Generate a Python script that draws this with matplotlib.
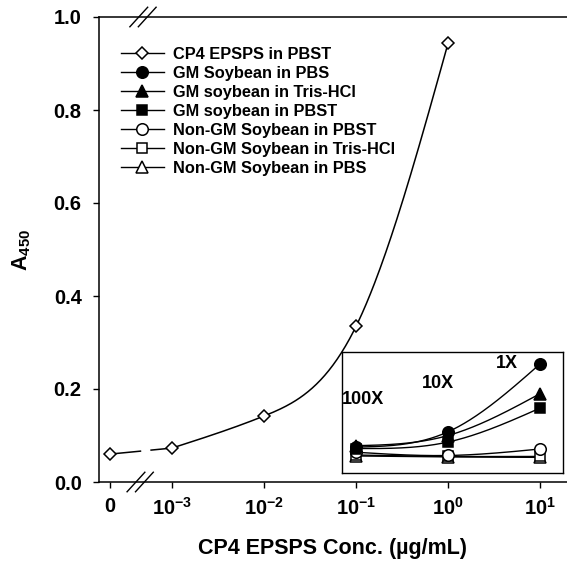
import numpy as np
import matplotlib
matplotlib.use("Agg")
import matplotlib.pyplot as plt
from matplotlib.lines import Line2D
from matplotlib.ticker import NullLocator

plt.rcParams['font.family'] = ['Liberation Sans', 'DejaVu Sans']
plt.rcParams['font.weight'] = 'bold'
plt.rcParams['axes.labelweight'] = 'bold'
plt.rcParams['mathtext.fontset'] = 'custom'
plt.rcParams['mathtext.rm'] = 'Liberation Sans:bold'
plt.rcParams['mathtext.bf'] = 'Liberation Sans:bold'
plt.rcParams['mathtext.it'] = 'Liberation Sans:bold'
plt.rcParams['mathtext.default'] = 'bf'

# ---------------- data ----------------
cp4_conc = [0, 1e-3, 1e-2, 1e-1, 1]
cp4_a450 = [0.060, 0.073, 0.142, 0.335, 0.944]

sample_conc = [1e-1, 1, 10]          # positions of 100X, 10X, 1X extracts
dilution_labels = ['100X', '10X', '1X']
gm_pbs = [0.075, 0.108, 0.254]
gm_tris = [0.078, 0.100, 0.190]
gm_pbst = [0.072, 0.086, 0.159]
ngm_pbst = [0.064, 0.057, 0.071]
ngm_tris = [0.058, 0.055, 0.055]
ngm_pbs = [0.056, 0.054, 0.053]

series_labels = ['CP4 EPSPS in PBST', 'GM Soybean in PBS', 'GM soybean in Tris-HCl',
                 'GM soybean in PBST', 'Non-GM Soybean in PBST',
                 'Non-GM Soybean in Tris-HCl', 'Non-GM Soybean in PBS']

x_ticks = [0, 1e-3, 1e-2, 1e-1, 1, 10]
x_tick_labels = ['0', r'$10^{-3}$', r'$10^{-2}$', r'$10^{-1}$', r'$10^{0}$', r'$10^{1}$']
y_ticks = [0.0, 0.2, 0.4, 0.6, 0.8, 1.0]
y_tick_labels = ['0.0', '0.2', '0.4', '0.6', '0.8', '1.0']


def natural_spline(x, y, n=200):
    x = np.asarray(x, float); y = np.asarray(y, float)
    N = len(x)
    h = np.diff(x)
    A = np.zeros((N, N)); b = np.zeros(N)
    A[0, 0] = 1; A[-1, -1] = 1
    for i in range(1, N - 1):
        A[i, i - 1] = h[i - 1]
        A[i, i] = 2 * (h[i - 1] + h[i])
        A[i, i + 1] = h[i]
        b[i] = 6 * ((y[i + 1] - y[i]) / h[i] - (y[i] - y[i - 1]) / h[i - 1])
    M = np.linalg.solve(A, b)
    xs = np.linspace(x[0], x[-1], n)
    k = np.clip(np.searchsorted(x, xs) - 1, 0, N - 2)
    t1 = x[k + 1] - xs; t0 = xs - x[k]; hk = h[k]
    ys = (M[k] * t1**3 / (6 * hk) + M[k + 1] * t0**3 / (6 * hk)
          + (y[k] / hk - M[k] * hk / 6) * t1 + (y[k + 1] / hk - M[k + 1] * hk / 6) * t0)
    return xs, ys


def smooth(ax, x, y):
    T = ax.xaxis.get_transform()
    u = T.transform(np.asarray(x, float).reshape(-1, 1)).ravel()
    us, ys = natural_spline(u, y)
    xs = T.inverted().transform(us.reshape(-1, 1)).ravel()
    return xs, ys


fig = plt.figure(figsize=(5.67, 5.70), dpi=100)
ax = fig.add_axes([99 / 567, 1 - 482 / 570, 468 / 567, 465 / 570])

LINTHRESH = 1e-3
LINSCALE = 0.607
ax.set_xscale('symlog', linthresh=LINTHRESH, linscale=LINSCALE)
ax.set_xlim(-1.78e-4, 19.6)
ax.set_ylim(0, 1.0)
ax.xaxis.set_minor_locator(NullLocator())
ax.yaxis.set_minor_locator(NullLocator())
ax.set_xticks(x_ticks)
ax.set_xticklabels(x_tick_labels)
ax.set_yticks(y_ticks)
ax.set_yticklabels(y_tick_labels)
ax.tick_params(axis='both', direction='out', length=4.5, width=1.0, labelsize=14.5)
ax.tick_params(axis='x', pad=6)
ax.tick_params(axis='y', pad=8)
for s in ['left', 'bottom', 'top']:
    ax.spines[s].set_linewidth(1.1)
ax.spines['right'].set_visible(False)

# main CP4 curve
xs, ys = smooth(ax, cp4_conc[1:], cp4_a450[1:])
ax.plot(xs, ys, color='k', lw=1.1, zorder=2)
ax.plot(cp4_conc[:2], cp4_a450[:2], color='k', lw=1.1, zorder=2,
        linestyle=(0, (20.5, 6.0, 60, 1)))
ax.plot(cp4_conc, cp4_a450, linestyle='none', marker='D', ms=6.3,
        mfc='white', mec='k', mew=1.1, zorder=3)

# break marks
for (xc, yc) in [(0.088, 0.0), (0.094, 1.0)]:
    for off in (-0.009, 0.009):
        ax.plot([xc + off - 0.019, xc + off + 0.019], [yc - 0.021, yc + 0.021],
                transform=ax.transAxes, color='k', lw=1.0, clip_on=False, zorder=5)

ax.set_xlabel('CP4 EPSPS Conc. (\u00b5g/mL)', fontsize=15.5, labelpad=14)
ax.set_ylabel(r'$A_{450}$', fontsize=15.5, labelpad=15)

# ---------------- inset ----------------
fx0, fy0, fw, fh = (342 - 99) / 468, (482 - 473) / 465, (563 - 342) / 468, (473 - 352) / 465
fig.canvas.draw()
corners = ax.transData.inverted().transform(
    ax.transAxes.transform([[fx0, fy0], [fx0 + fw, fy0 + fh]]))
ins = ax.inset_axes([fx0, fy0, fw, fh])
ins.set_xscale('symlog', linthresh=LINTHRESH, linscale=LINSCALE)
ins.set_xlim(corners[0, 0], corners[1, 0])
ins.set_ylim(corners[0, 1], corners[1, 1])
ins.set_xticks([]); ins.set_yticks([])
ins.xaxis.set_minor_locator(NullLocator())
for s in ins.spines.values():
    s.set_linewidth(1.0)
ins.set_facecolor('white')

styles = [
    (gm_pbs, 'o', 'k', 8.3),
    (gm_tris, '^', 'k', 8.3),
    (gm_pbst, 's', 'k', 7.0),
    (ngm_pbst, 'o', 'white', 8.3),
    (ngm_tris, 's', 'white', 7.0),
    (ngm_pbs, '^', 'white', 8.3),
]
for vals, mk, fc, ms in styles:
    xs, ys = smooth(ins, sample_conc, vals)
    ins.plot(xs, ys, color='k', lw=1.0, zorder=2)
for vals, mk, fc, ms in styles[::-1]:
    ins.plot(sample_conc, vals, linestyle='none', marker=mk, ms=ms, mfc=fc,
             mec='k', mew=1.1, zorder=3)

label_offsets = [(5, 34), (-7, 35), (-24, 0)]
for xv, yv, lab, off in zip(sample_conc, gm_pbs, dilution_labels, label_offsets):
    ins.annotate(lab, (xv, yv), xytext=off, textcoords='offset points',
                 ha='center', va='center', fontsize=13, fontweight='bold')

# ---------------- legend ----------------
handles = [Line2D([], [], color='k', lw=1.0, marker='D', ms=6.3, mfc='white', mec='k', mew=1.1)]
for vals, mk, fc, ms in styles:
    handles.append(Line2D([], [], color='k', lw=1.0, marker=mk, ms=ms, mfc=fc, mec='k', mew=1.1))
ax.legend(handles, series_labels, loc='upper left',
          bbox_to_anchor=((121 - 99) / 468, (482 - 47) / 465),
          frameon=False, fontsize=11.8, handlelength=2.6, handletextpad=0.55,
          labelspacing=0.24, borderpad=0, borderaxespad=0)

fig.savefig('out.png', dpi=100)
